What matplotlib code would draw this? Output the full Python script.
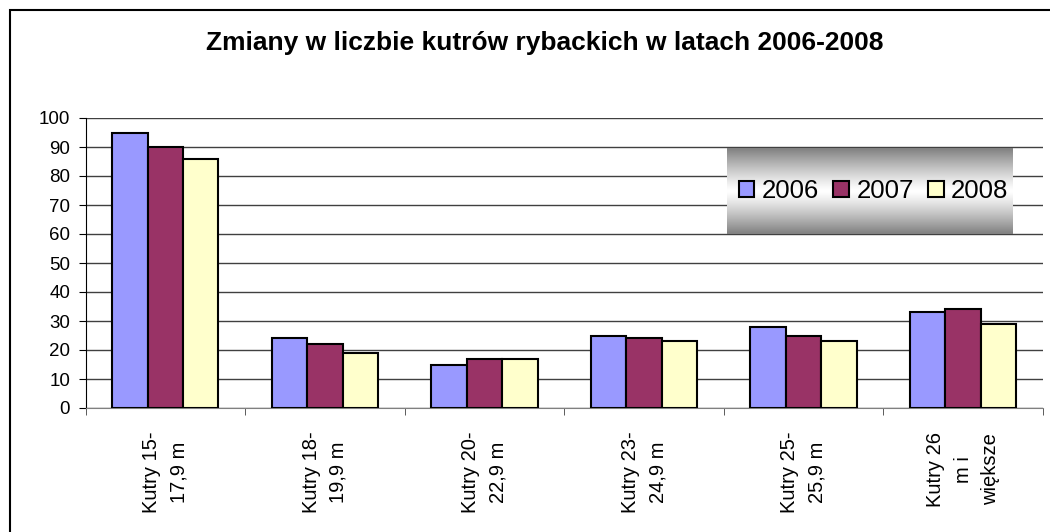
import numpy as np
import matplotlib.pyplot as plt
from matplotlib.patches import Rectangle, Patch

categories = ["Kutry 15-\n17,9 m", "Kutry 18-\n19,9 m", "Kutry 20-\n22,9 m",
              "Kutry 23-\n24,9 m", "Kutry 25-\n25,9 m", "Kutry 26\nm i\nwiększe"]
years = ["2006", "2007", "2008"]
v2006 = [95, 24, 15, 25, 28, 33]
v2007 = [90, 22, 17, 24, 25, 34]
v2008 = [86, 19, 17, 23, 23, 29]
colors = ["#9999FF", "#993366", "#FFFFCC"]

plt.rcParams["font.family"] = ["Liberation Sans", "DejaVu Sans"]

fig = plt.figure(figsize=(10.5, 5.32), dpi=100)
ax = fig.add_axes([85.5 / 1050, 124 / 532, (1043 - 85.5) / 1050, 290 / 532])

x = np.arange(len(categories))
w = 1 / 4.5
for i, (vals, c) in enumerate(zip([v2006, v2007, v2008], colors)):
    ax.bar(x + (i - 1) * w, vals, w, color=c, edgecolor="black", linewidth=1.5,
           zorder=3, label=years[i])

ax.set_xlim(-0.5, len(categories) - 0.5)
ax.set_ylim(0, 100)
ax.set_yticks(range(0, 101, 10))
ax.yaxis.grid(True, color="#404040", linewidth=1)
ax.set_axisbelow(True)
for s in ["top", "right"]:
    ax.spines[s].set_visible(False)
ax.spines["left"].set_color("black")
ax.spines["bottom"].set_color("#808080")
ax.tick_params(axis="y", direction="out", length=5, labelsize=13.5, pad=6)

ax.set_xticks(x)
ax.set_xticklabels(categories, rotation=90, fontsize=14.5, va="top",
                   ha="center", multialignment="center", linespacing=1.55)
ax.set_xticks(np.arange(-0.5, len(categories) + 0.5), minor=True)
ax.tick_params(axis="x", which="major", length=0, pad=17)
ax.tick_params(axis="x", which="minor", direction="out", length=5, color="#404040")

fig.text(0.519, 0.919, "Zmiany w liczbie kutrów rybackich w latach 2006-2008",
         ha="center", va="center", fontsize=19, fontweight="bold")

# gradient legend box
lax = fig.add_axes([727 / 1050, (532 - 234) / 532, 285 / 1050, 86 / 532])
t = np.linspace(-1, 1, 256)
grad = 0.5 + 0.5 * (1 - np.abs(t) ** 1.2)
lax.imshow(grad[:, None], aspect="auto", cmap="gray", vmin=0, vmax=1,
           extent=[0, 1, 0, 1])
lax.set_axis_off()
handles = [Patch(facecolor=c, edgecolor="black", linewidth=1.5) for c in colors]
leg = lax.legend(handles, years, loc="center", ncol=3, frameon=False,
                 fontsize=18.5, handlelength=0.6, handleheight=0.6,
                 handletextpad=0.3, columnspacing=0.55, borderaxespad=0)
leg.set_bbox_to_anchor((0.515, 0.5))

fig.patches.append(Rectangle((10 / 1050, -0.1), 1.2, 1 - 10 / 532 + 0.1,
                             transform=fig.transFigure, fill=False,
                             edgecolor="black", linewidth=1.5))

fig.savefig("out.png", dpi=100)
plt.close(fig)
